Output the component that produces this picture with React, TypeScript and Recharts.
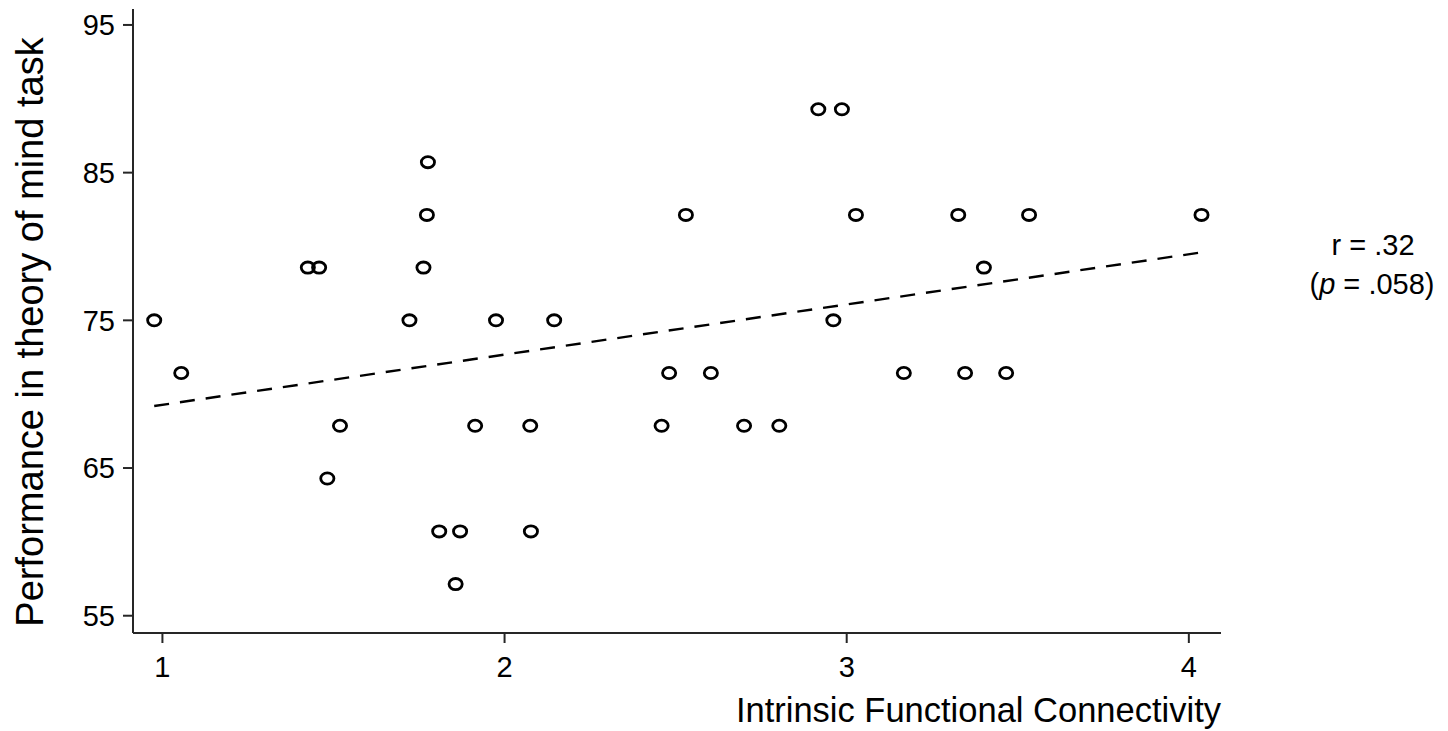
import React from 'react';
import { ScatterChart, Scatter, XAxis, YAxis, ReferenceLine, Label, Customized } from 'recharts';

const connectivity = [
  0.976, 1.055, 1.425, 1.458, 1.482, 1.519, 1.722, 1.763, 1.773, 1.776,
  1.809, 1.857, 1.870, 1.914, 1.975, 2.075, 2.077, 2.145, 2.459, 2.481,
  2.530, 2.603, 2.700, 2.803, 2.917, 2.961, 2.986, 3.027, 3.167, 3.326,
  3.346, 3.401, 3.466, 3.533, 4.037,
];
const performance = [
  75.0, 71.43, 78.57, 78.57, 64.29, 67.86, 75.0, 78.57, 82.14, 85.71,
  60.71, 57.14, 60.71, 67.86, 75.0, 67.86, 60.71, 75.0, 67.86, 71.43,
  82.14, 71.43, 67.86, 67.86, 89.29, 75.0, 89.29, 82.14, 71.43, 82.14,
  71.43, 78.57, 71.43, 82.14, 82.14,
];
const fitLine = [
  { x: 0.976, y: 69.2 },
  { x: 4.037, y: 79.6 },
];
const xTicks = [1, 2, 3, 4];
const yTicks = [55, 65, 75, 85, 95];
const xDomain = [0.914, 4.094];
const yDomain = [53.83, 96.08];
const xTitle = 'Intrinsic Functional Connectivity';
const yTitle = 'Performance in theory of mind task';
const statR = 'r = .32';
const statP = '.058';

const points = connectivity.map((x, i) => ({ x, y: performance[i] }));

const FONT = '"Liberation Sans", Arial, sans-serif';
const AXIS = '#262626';

const Ring = (props: any) => {
  const { cx, cy } = props;
  if (cx == null || cy == null) return <g />;
  return <ellipse cx={cx} cy={cy} rx={6.6} ry={5.6} fill="none" stroke="#000" strokeWidth={2.8} />;
};

const Annotation = () => (
  <g fontFamily={FONT} fill="#000">
    <text x={1373} y={255} fontSize={29} textAnchor="middle">{statR}</text>
    <text x={1372} y={294} fontSize={29} textAnchor="middle">
      (<tspan fontStyle="italic">p</tspan> = {statP})
    </text>
  </g>
);

export default function App() {
  return (
    <div style={{ position: 'absolute', left: 0, top: 0, width: 1448, height: 731, background: '#fff' }}>
      <ScatterChart width={1448} height={731} margin={{ top: 9, right: 227, bottom: 0, left: 0 }}>
        <XAxis
          type="number"
          dataKey="x"
          domain={xDomain}
          allowDataOverflow
          ticks={xTicks}
          height={98}
          tickSize={10}
          tickMargin={13}
          stroke={AXIS}
          strokeWidth={2}
          tick={{ fontSize: 29, fill: '#000', fontFamily: FONT }}
          tickLine={{ stroke: AXIS, strokeWidth: 2 }}
        >
          <Label
            content={() => (
              <text x={1221} y={722} textAnchor="end" fontSize={34.5} fontFamily={FONT} fill="#000">
                {xTitle}
              </text>
            )}
          />
        </XAxis>
        <YAxis
          type="number"
          dataKey="y"
          domain={yDomain}
          allowDataOverflow
          ticks={yTicks}
          width={133}
          tickSize={10}
          tickMargin={8}
          stroke={AXIS}
          strokeWidth={2}
          tick={{ fontSize: 29, fill: '#000', fontFamily: FONT }}
          tickLine={{ stroke: AXIS, strokeWidth: 2 }}
        >
          <Label
            content={() => (
              <text
                x={43}
                y={332}
                transform="rotate(-90 43 332)"
                textAnchor="middle"
                fontSize={38}
                fontFamily={FONT}
                fill="#000"
              >
                {yTitle}
              </text>
            )}
          />
        </YAxis>
        <ReferenceLine
          segment={fitLine}
          stroke="#000"
          strokeWidth={2.4}
          strokeDasharray="15 11"
          ifOverflow="visible"
        />
        <Scatter data={points} shape={Ring} isAnimationActive={false} />
        <Customized component={Annotation} />
      </ScatterChart>
    </div>
  );
}
